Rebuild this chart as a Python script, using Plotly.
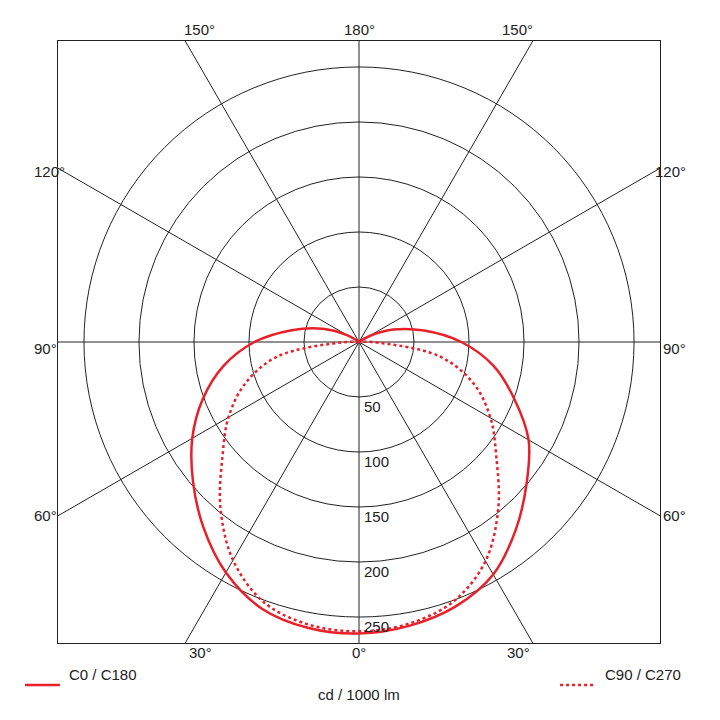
import numpy as np
import plotly.graph_objects as go

# gamma angle (deg from nadir) and intensities in cd / 1000 lm
gamma = [0, 10, 20, 30, 40, 50, 60, 70, 80, 90, 100, 110, 120, 130, 140, 150, 160, 170, 180]
c0_left = [265, 264, 258, 242, 220, 197, 175, 151, 125, 95, 62, 35, 12, 0, 0, 0, 0, 0, 0]
c0_right = [265, 262, 256, 244, 222, 199, 178, 150, 124, 93, 60, 33, 10, 0, 0, 0, 0, 0, 0]
c90_left = [263, 261, 252, 229, 196, 162, 137, 110, 75, 12, 0, 0, 0, 0, 0, 0, 0, 0, 0]
c90_right = [263, 260, 251, 230, 197, 163, 138, 111, 74, 12, 0, 0, 0, 0, 0, 0, 0, 0, 0]
rings = [50, 100, 150, 200, 250]
spoke_angles = [0, 30, 60, 90, 120, 150]
R = 273.6


def to_xy(left, right):
    g = np.radians(gamma)
    gl, gr = g[::-1], g
    xl = -np.array(left)[::-1] * np.sin(gl)
    yl = -np.array(left)[::-1] * np.cos(gl)
    xr = np.array(right) * np.sin(gr)
    yr = -np.array(right) * np.cos(gr)
    # drop the duplicated nadir point
    return np.concatenate([xl, xr[1:]]), np.concatenate([yl, yr[1:]])


fig = go.Figure()
for a in spoke_angles:
    t = np.radians(a)
    fig.add_trace(go.Scatter(x=[-1000 * np.sin(t), 1000 * np.sin(t)],
                             y=[-1000 * np.cos(t), 1000 * np.cos(t)],
                             mode='lines', line=dict(color='#222', width=1),
                             hoverinfo='skip', showlegend=False))

x0, y0 = to_xy(c0_left, c0_right)
x9, y9 = to_xy(c90_left, c90_right)
fig.add_trace(go.Scatter(x=x9, y=y9, mode='lines', showlegend=False,
                         line=dict(color='#e8202a', width=2.5, dash='dot', shape='spline')))
fig.add_trace(go.Scatter(x=x0, y=y0, mode='lines', showlegend=False,
                         line=dict(color='#e8202a', width=2.5, shape='spline')))

for r in rings:
    fig.add_shape(type='circle', xref='x', yref='y', x0=-r, y0=-r, x1=r, y1=r,
                  line=dict(color='#222', width=1), layer='below')
    fig.add_annotation(x=3, y=-r - 9, text=str(r), showarrow=False,
                       xanchor='left', yanchor='middle', font=dict(size=15))

# angle labels, given in reference pixel positions around the frame
labels = [(182, 18, '150°'), (359, 18, '180°'), (535, 18, '150°'),
          (32, 160, '120°'), (688, 160, '120°'), (32, 347, '90°'), (688, 347, '90°'),
          (32, 525, '60°'), (688, 525, '60°'),
          (187, 662, '30°'), (359, 662, '0°'), (532, 662, '30°'),
          (359, 704, 'cd / 1000 lm')]
for px, py, txt in labels:
    fig.add_annotation(xref='paper', yref='paper', x=(px - 58) / 602, y=(642 - py) / 602,
                       text=txt, showarrow=False, font=dict(size=15))

# legend
fig.add_shape(type='line', xref='paper', yref='paper', x0=-0.0548, x1=0.0033,
              y0=-0.0698, y1=-0.0698, line=dict(color='#e8202a', width=2.5))
fig.add_shape(type='line', xref='paper', yref='paper', x0=0.834, x1=0.894,
              y0=-0.0698, y1=-0.0698, line=dict(color='#e8202a', width=2.5, dash='dot'))
fig.add_annotation(xref='paper', yref='paper', x=(67 - 58) / 602, y=-0.0698, text='C0 / C180',
                   showarrow=False, xanchor='left', font=dict(size=15))
fig.add_annotation(xref='paper', yref='paper', x=(603 - 58) / 602, y=-0.0698, text='C90 / C270',
                   showarrow=False, xanchor='left', font=dict(size=15))

ax = dict(range=[-R, R], showgrid=False, zeroline=False, showticklabels=False,
          showline=True, mirror=True, linecolor='#222', linewidth=1, fixedrange=True)
fig.update_layout(width=720, height=720, margin=dict(l=50, r=68, t=33, b=85),
                  xaxis=ax, yaxis=ax, plot_bgcolor='white', paper_bgcolor='white',
                  font=dict(family='Liberation Sans, Arial', color='#222'))
fig.write_html('out.html')
